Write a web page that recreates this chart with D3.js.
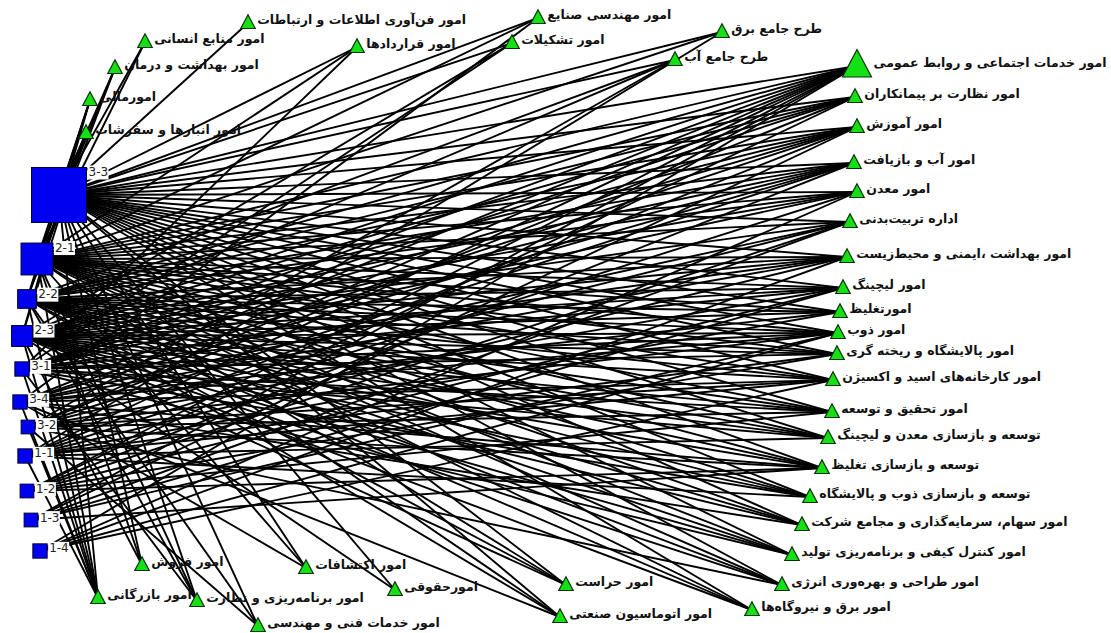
<!DOCTYPE html>
<html>
<head>
<meta charset="utf-8">
<script src="https://cdn.jsdelivr.net/npm/d3@7"></script>
<style>
  body { margin: 0; background: #fff; }
  svg { display: block; }
  text { font-family: "DejaVu Sans", sans-serif; }
</style>
</head>
<body>
<svg id="chart" width="1111" height="633"></svg>
<script>
// unit groups (blue squares) -- layout coords from the netdraw picture
const groupNames = ["3-3", "2-1", "2-2", "2-3", "3-1", "3-4", "3-2", "1-1", "1-2", "1-3", "1-4"];
const groupX = [59, 37, 27, 22, 22, 20, 28, 25, 27, 31, 40];
const groupY = [195, 259, 299, 336, 369, 402, 427, 456, 491, 520, 551];
const groupScore = [1.0, 0.58, 0.34, 0.38, 0.26, 0.26, 0.25, 0.26, 0.25, 0.25, 0.26];

// departments (green triangles)
const deptNames = [
  "امور  فن‌آوری اطلاعات و ارتباطات", "امور منابع  انسانی", "امور   بهداشت و درمان", "امورمالی",
  "امور انبارها و سفرشات", "امور قراردادها", "امور مهندسی صنایع", "امور تشکیلات",
  "طرح جامع برق", "طرح جامع آب", "امور خدمات اجتماعی و روابط عمومی", "امور  نظارت  بر  پیمانکاران",
  "امور آموزش", "امور آب و بازیافت", "امور معدن", "اداره تربیت‌بدنی",
  "امور بهداشت ،ایمنی  و محیط‌زیست", "امور لیچینگ", "امورتغلیظ", "امور ذوب",
  "امور  پالایشگاه  و ریخته گری", "امور کارخانه‌های اسید و اکسیژن", "امور تحقیق و توسعه", "توسعه و بازسازی معدن و لیچینگ",
  "توسعه و بازسازی تغلیظ", "توسعه و بازسازی ذوب و  پالایشگاه", "امور  سهام، سرمایه‌گذاری و مجامع شرکت", "امور کنترل کیفی و برنامه‌ریزی تولید",
  "امور طراحی و بهره‌وری انرژی", "امور برق و نیروگاه‌ها", "امور بازرگانی", "امور  فروش",
  "امور  برنامه‌ریزی و نظارت", "امور خدمات  فنی و مهندسی", "امور    اکتشافات", "امورحقوقی",
  "امور  حراست", "امور اتوماسیون  صنعتی"
];
const deptX = [248, 145, 115, 90, 86, 357, 538, 512, 722, 675, 857, 855,
  857, 854, 857, 850, 847, 843, 840, 838, 837, 833, 832, 828,
  822, 810, 802, 792, 782, 752, 98, 142, 197, 258, 306, 395, 566, 560];
const deptY = [23, 42, 68, 100, 133, 47, 18, 43, 32, 60, 66, 97,
  127, 163, 192, 222, 257, 288, 312, 333, 354, 380, 412, 438,
  468, 497, 525, 555, 585, 610, 598, 565, 601, 626, 568, 590, 585, 617];
const deptScore = [0.5, 0.5, 0.5, 0.5, 0.5, 0.5, 0.5, 0.5, 0.5, 0.5, 1.0, 0.5,
  0.5, 0.5, 0.5, 0.5, 0.5, 0.5, 0.5, 0.5, 0.5, 0.5, 0.5, 0.5,
  0.5, 0.5, 0.5, 0.5, 0.5, 0.5, 0.5, 0.5, 0.5, 0.5, 0.5, 0.5, 0.5, 0.5];

// ties: for each group, the departments it is linked to (by index)
const links33 = [0,1,2,3,4,5,6,7,8,9,10,11,12,13,14,15,16,17,18,19,20,21,22,23,24,25,26,27,28,29,30,31,32,33,34,35,36,37];
const links21 = [1,2,3,4,5,6,8,10,11,12,13,14,15,16,17,18,19,20,21,22,23,24,25,26,27,28,29,30,31,32,34,36,37];
const links22 = [2,3,4,9,10,11,12,13,14,16,17,18,19,20,21,22,23,24,25,26,27,28,29,30,32,33,36,37];
const links23 = [3,4,7,9,10,11,12,13,14,15,16,17,18,19,20,21,22,23,24,25,26,27,28,29,30,31,35,36];
const links31 = [5,7,10,11,12,13,14,16,17,19,20,22,23,25,27,30,32];
const links34 = [6,10,12,13,15,16,18,19,21,24,26,30,34,37];
const links32 = [9,10,11,13,15,17,19,21,22,24,28,30,33];
const links11 = [8,10,12,14,16,18,20,21,23,25,30];
const links12 = [10,11,13,15,17,20,22,24];
const links13 = [10,12,15,17,19,24];
const links14 = [10,14,16,19,21];
const groupLinks = [links33, links21, links22, links23, links31, links34, links32, links11, links12, links13, links14];

const svg = d3.select("#chart");
const width = +svg.attr("width"), height = +svg.attr("height");

const x = d3.scaleLinear().domain([0, 1111]).range([0, width]);
const y = d3.scaleLinear().domain([0, 633]).range([0, height]);
const squareSize = d3.scaleLinear().domain([0, 1]).range([0, 55]);
const triSize = d3.scaleLinear().domain([0, 1]).range([0, 29]);

const groups = groupNames.map((name, i) => ({ name, x: x(groupX[i]), y: y(groupY[i]), s: squareSize(groupScore[i]) }));
const depts = deptNames.map((name, i) => ({ name, x: x(deptX[i]), y: y(deptY[i]), s: triSize(deptScore[i]) }));

const edges = [];
groupLinks.forEach((list, g) => list.forEach(d => edges.push({ source: groups[g], target: depts[d] })));

svg.append("rect").attr("width", width).attr("height", height).attr("fill", "#fff");

svg.append("g")
  .selectAll("line")
  .data(edges)
  .join("line")
  .attr("x1", d => d.source.x)
  .attr("y1", d => d.source.y)
  .attr("x2", d => d.target.x)
  .attr("y2", d => d.target.y)
  .attr("stroke", "#000")
  .attr("stroke-width", 1.9);

// triangles
const tri = d => {
  const w = d.s, h = d.s * 0.95;
  return `M${d.x},${d.y - h * 0.6}L${d.x + w / 2},${d.y + h * 0.4}L${d.x - w / 2},${d.y + h * 0.4}Z`;
};
svg.append("g")
  .selectAll("path")
  .data(depts)
  .join("path")
  .attr("d", tri)
  .attr("fill", "#14e014")
  .attr("stroke", "#0a300a")
  .attr("stroke-width", 1.2);

svg.append("g")
  .selectAll("text")
  .data(depts)
  .join("text")
  .attr("x", d => d.x + d.s / 2 + 2)
  .attr("y", d => d.y - 3)
  .attr("dominant-baseline", "middle")
  .attr("font-size", 12.5)
  .attr("font-weight", "bold")
  .attr("fill", "#111")
  .text(d => d.name);

// squares
svg.append("g")
  .selectAll("rect")
  .data(groups)
  .join("rect")
  .attr("x", d => d.x - d.s / 2)
  .attr("y", d => d.y - d.s / 2)
  .attr("width", d => d.s)
  .attr("height", d => d.s)
  .attr("fill", "#0000f0")
  .attr("stroke", "#000030")
  .attr("stroke-width", 1);

const glab = svg.append("g")
  .selectAll("g")
  .data(groups)
  .join("g")
  .attr("transform", d => `translate(${d.x + d.s / 2 + 2},${d.y - d.s / 2 + 5})`);
glab.append("rect")
  .attr("x", -1).attr("y", -7).attr("width", 21).attr("height", 14)
  .attr("fill", "#fff");
glab.append("text")
  .attr("dominant-baseline", "middle")
  .attr("font-size", 12)
  .attr("fill", "#222")
  .text(d => d.name);
</script>
</body>
</html>
